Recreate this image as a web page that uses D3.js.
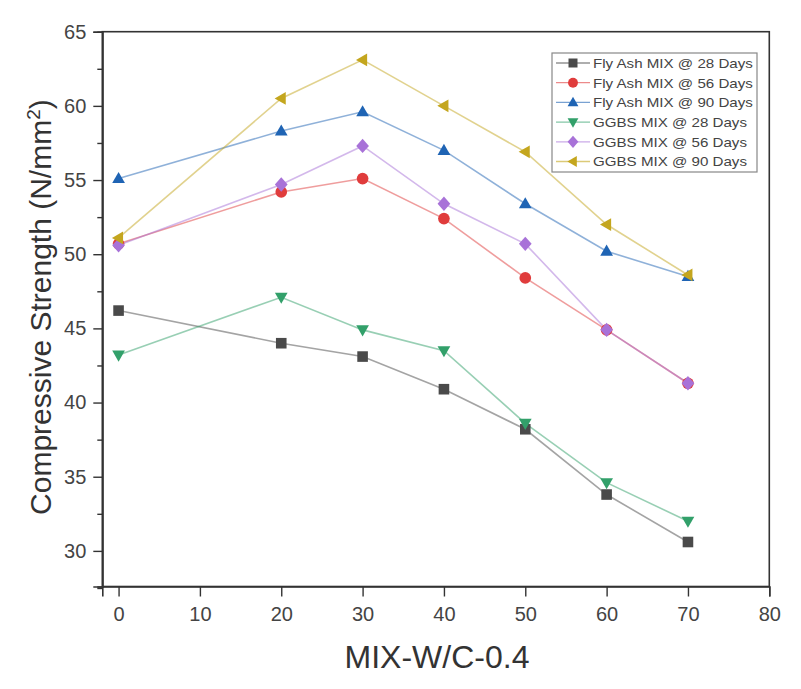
<!DOCTYPE html>
<html><head><meta charset="utf-8">
<script src="https://cdn.jsdelivr.net/npm/d3@7/dist/d3.min.js"></script>
<style>body{margin:0;background:#fff}svg{display:block}text{font-family:"Liberation Sans",Arial,sans-serif}</style>
</head><body><div id="chart"></div>
<script>
const xValues = [0, 20, 30, 40, 50, 60, 70];
const seriesNames = ["Fly Ash MIX @ 28 Days","Fly Ash MIX @ 56 Days","Fly Ash MIX @ 90 Days","GGBS MIX @ 28 Days","GGBS MIX @ 56 Days","GGBS MIX @ 90 Days"];
const flyAsh28 = [46.2, 44.0, 43.1, 40.9, 38.2, 33.8, 30.6];
const flyAsh56 = [50.7, 54.2, 55.1, 52.4, 48.4, 44.9, 41.3];
const flyAsh90 = [55.1, 58.3, 59.6, 57.0, 53.4, 50.2, 48.5];
const ggbs28  = [43.2, 47.1, 44.9, 43.5, 38.6, 34.6, 32.0];
const ggbs56  = [50.6, 54.7, 57.3, 53.4, 50.7, 44.9, 41.3];
const ggbs90  = [51.1, 60.5, 63.1, 60.0, 56.9, 52.0, 48.6];
const xTicks = [0,10,20,30,40,50,60,70,80];
const yTicks = [30,35,40,45,50,55,60,65];
const yMinorTicks = [27.5,32.5,37.5,42.5,47.5,52.5,57.5,62.5];
const colors = ["#4a4a4a","#e03c3c","#1f64b4","#32a06a","#a872d8","#c4a61e"];
const symbols = ["square","circle","triUp","triDown","diamond","triLeft"];
const allSeries = [flyAsh28, flyAsh56, flyAsh90, ggbs28, ggbs56, ggbs90];

const W = 801, H = 689;
const L = 102.3, R = 769.3, T = 31.7, B = 586.5;
const svg = d3.select("#chart").append("svg").attr("width", W).attr("height", H);
const x = d3.scaleLinear().domain([-2, 80]).range([L, R]);
const y = d3.scaleLinear().domain([27.6, 65]).range([B, T]);

function sym(g, type, s, col) {
  let p;
  if (type === "square") p = `M${-s},${-s}H${s}V${s}H${-s}Z`;
  else if (type === "circle") return g.append("circle").attr("r", s*1.1).attr("fill", col);
  else if (type === "triUp") p = `M0,${-s*1.25}L${s*1.2},${s*0.85}L${-s*1.2},${s*0.85}Z`;
  else if (type === "triDown") p = `M0,${s*1.25}L${s*1.2},${-s*0.85}L${-s*1.2},${-s*0.85}Z`;
  else if (type === "diamond") p = `M0,${-s*1.35}L${s*1.2},0L0,${s*1.35}L${-s*1.2},0Z`;
  else if (type === "triLeft") p = `M${-s*1.25},0L${s*0.85},${-s*1.2}L${s*0.85},${s*1.2}Z`;
  return g.append("path").attr("d", p).attr("fill", col);
}

// plot frame
svg.append("rect").attr("x", L).attr("y", T).attr("width", R-L).attr("height", B-T)
  .attr("fill", "none").attr("stroke", "#333").attr("stroke-width", 1.6);

// axes
const xAxis = d3.axisBottom(x).tickValues(xTicks).tickSize(10).tickPadding(10).tickFormat(d3.format("d"));
const gx = svg.append("g").attr("transform", `translate(0,${B})`).call(xAxis);
const yAxis = d3.axisLeft(y).tickValues(yTicks).tickSize(9).tickPadding(7).tickFormat(d3.format("d"));
const gy = svg.append("g").attr("transform", `translate(${L},0)`).call(yAxis);
const yMinor = d3.axisLeft(y).tickValues(yMinorTicks).tickSize(5).tickFormat("");
const gym = svg.append("g").attr("transform", `translate(${L},0)`).call(yMinor);
[gx, gy, gym].forEach(g => {
  g.select(".domain").attr("stroke", "#333").attr("stroke-width", 1.6);
  g.selectAll(".tick line").attr("stroke", "#333").attr("stroke-width", 1.4);
  g.selectAll(".tick text").attr("fill", "#444").attr("font-size", 20).attr("font-family", "Liberation Sans, Arial, sans-serif");
});

// axis titles
svg.append("text").attr("x", 437).attr("y", 668).attr("text-anchor", "middle")
  .attr("font-size", 32).attr("fill", "#333").text("MIX-W/C-0.4");
const yt = svg.append("text").attr("transform", `translate(51,${(T+B)/2 - 2}) rotate(-90)`)
  .attr("text-anchor", "middle").attr("font-size", 30).attr("fill", "#333");
yt.append("tspan").text("Compressive Strength (N/mm");
yt.append("tspan").attr("dy", -11).attr("font-size", 19).text("2");
yt.append("tspan").attr("dy", 11).text(")");

// series
const line = d3.line().x((d,i) => x(xValues[i])).y(d => y(d));
allSeries.forEach((vals, k) => {
  svg.append("path").datum(vals).attr("d", line).attr("fill", "none")
    .attr("stroke", colors[k]).attr("stroke-opacity", 0.5).attr("stroke-width", 1.6);
});
allSeries.forEach((vals, k) => {
  vals.forEach((v, i) => {
    const g = svg.append("g").attr("transform", `translate(${x(xValues[i])},${y(v)})`);
    sym(g, symbols[k], 5.3, colors[k]);
  });
});

// legend
const lg = svg.append("g");
lg.append("rect").attr("x", 552).attr("y", 53).attr("width", 205).attr("height", 119)
  .attr("fill", "#fff").attr("stroke", "#888").attr("stroke-width", 1.2);
seriesNames.forEach((n, k) => {
  const yy = 63 + k*19.7;
  lg.append("line").attr("x1", 556).attr("x2", 590).attr("y1", yy).attr("y2", yy)
    .attr("stroke", colors[k]).attr("stroke-opacity", 0.6).attr("stroke-width", 1.3);
  const g = lg.append("g").attr("transform", `translate(573,${yy})`);
  sym(g, symbols[k], 4.5, colors[k]);
  const t = lg.append("text").attr("x", 593).attr("y", yy + 4.8).attr("font-size", 13.5)
    .attr("fill", "#444").text(n);
  const w = t.node().getComputedTextLength();
  t.attr("textLength", w * 1.12).attr("lengthAdjust", "spacingAndGlyphs");
});
</script></body></html>
